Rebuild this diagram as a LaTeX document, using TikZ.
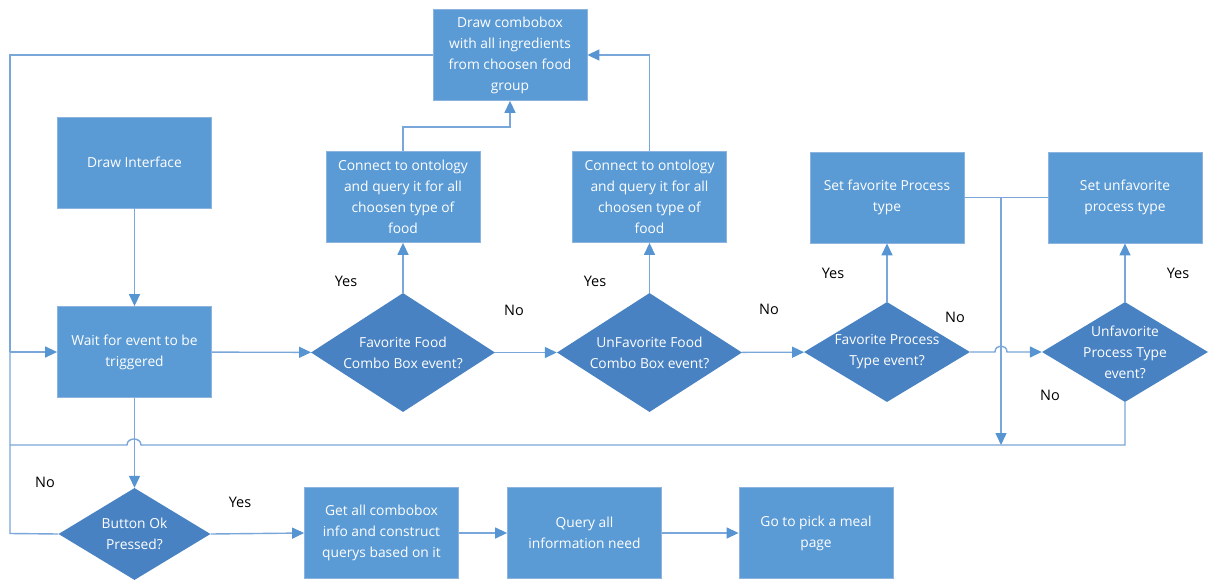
\documentclass[tikz,border=0pt]{standalone}
\usepackage{fontspec}
\setmainfont{Open Sans}
\usetikzlibrary{arrows.meta,shapes.geometric}
\definecolor{boxblue}{HTML}{5B9BD5}
\definecolor{diablue}{HTML}{4882C2}
\definecolor{edgeblue}{HTML}{8DB3DF}
\definecolor{lineblue}{HTML}{7AA7D9}
\definecolor{tipblue}{HTML}{5794D2}
\tikzset{
  procbox/.style={rectangle, fill=boxblue, draw=edgeblue, line width=0.8pt,
    text=white, align=center, inner sep=0pt,
    minimum width=154pt, minimum height=91pt},
  decision/.style={diamond, fill=diablue, draw=none, inner sep=0pt},
  dtext/.style={text=white, align=center},
  flow/.style={draw=lineblue, line width=1.4pt},
  flowarr/.style={flow, -{Triangle[length=12pt,width=11pt,color=tipblue]}},
  answer/.style={text=black, inner sep=0pt, font=\fontsize{14.5}{16}\selectfont},
}
\begin{document}
\begin{tikzpicture}[x=1pt, y=-1pt, font=\fontsize{13.8}{21}\selectfont]
\fill[white] (0,0) rectangle (1208,581);
\useasboundingbox (0,0) rectangle (1208,581);

% process boxes
\node[procbox] (drawui) at (134.5,162.5) {Draw Interface};
\node[procbox] (wait) at (134.5,352) {Wait for event to be\\triggered};
\node[procbox] (combo) at (510,55) {Draw combobox\\with all ingredients\\from choosen food\\group};
\node[procbox] (ontoA) at (403,197) {Connect to ontology\\and query it for all\\choosen type of\\food};
\node[procbox] (ontoB) at (649.5,197) {Connect to ontology\\and query it for all\\choosen type of\\food};
\node[procbox] (setfav) at (887,197.5) {Set favorite Process\\type};
\node[procbox] (setunfav) at (1125,197.5) {Set unfavorite\\process type};
\node[procbox] (getall) at (381.5,533) {Get all combobox\\info and construct\\querys based on it};
\node[procbox] (query) at (584.5,533) {Query all\\information need};
\node[procbox] (gopick) at (816,533) {Go to pick a meal\\page};

% decisions
\node[decision, minimum width=184pt, minimum height=119pt,
  label={[dtext]center:{Favorite Food\\Combo Box event?}}] (favfood) at (403,352.5) {};
\node[decision, minimum width=185pt, minimum height=119pt,
  label={[dtext]center:{UnFavorite Food\\Combo Box event?}}] (unfavfood) at (649.5,352.5) {};
\node[decision, minimum width=166pt, minimum height=100pt,
  label={[dtext]center:{Favorite Process\\Type event?}}] (favproc) at (887,352) {};
\node[decision, minimum width=166pt, minimum height=100pt,
  label={[dtext]center:{Unfavorite\\Process Type\\event?}}] (unfavproc) at (1125,352) {};
\node[decision, minimum width=152pt, minimum height=92pt,
  label={[dtext]center:{Button Ok\\Pressed?}}] (okbtn) at (134.5,534) {};

% branch labels
\node[answer] (yA) at (346,281) {Yes};
\node[answer] (yB) at (595,281) {Yes};
\node[answer] (yC) at (833,273) {Yes};
\node[answer] (yD) at (1178,273) {Yes};
\node[answer] (nA) at (514,310) {No};
\node[answer] (nB) at (769,309) {No};
\node[answer] (nC) at (955,317) {No};
\node[answer] (nD) at (1050,395) {No};
\node[answer] (nE) at (45,482) {No};
\node[answer] (yE) at (240,502) {Yes};

% helper points for the routed connectors
\coordinate (railtop) at (10,55);
\coordinate (railmid) at (10,352);
\coordinate (railbot) at (10,533.5);
\coordinate (retleft) at (10,445);
\coordinate (hopR) at (141,445);
\coordinate (hopL) at (127,445);
\coordinate (joinup) at (1001,197.5);
\coordinate (joindown) at (1001,445);
\coordinate (hop2L) at (995,352);
\coordinate (hop2R) at (1007,352);

% main row
\draw[flowarr] (drawui) -- (wait);
\draw[flowarr] (wait) -- (favfood);
\draw[flowarr] (favfood) -- (unfavfood);
\draw[flowarr] (unfavfood) -- (favproc);
\draw[flowarr] (favproc.east) -- (hop2L)
  .. controls (995,344) and (1007,344) .. (hop2R) -- (unfavproc.west);

% yes branches
\draw[flowarr] (favfood.north) -- (ontoA.south);
\draw[flowarr] (unfavfood.north) -- (ontoB.south);
\draw[flowarr] (favproc.north) -- (setfav.south);
\draw[flowarr] (unfavproc.north) -- (setunfav.south);
\draw[flowarr] (ontoA.north) -- ++(0,-24) -| (combo.south);
\draw[flowarr] (ontoB.north) |- (combo.east);

% returns to the waiting state
\draw[flow] (combo.west) -- (railtop) -- (railmid);
\draw[flow] (okbtn.west) -- (railbot) -- (railmid);
\draw[flowarr] (railmid) -- (wait.west);
\draw[flow] (setfav.east) -- (joinup);
\draw[flow] (setunfav.west) -- (joinup);
\draw[flowarr] (joinup) -- (joindown);
\draw[flow] (unfavproc.south) |- (hopR)
  .. controls (141,437) and (127,437) .. (hopL) -- (retleft);

% bottom row
\draw[flowarr] (wait) -- (okbtn);
\draw[flowarr] (okbtn.east) -- (getall.west);
\draw[flowarr] (getall) -- (query);
\draw[flowarr] (query) -- (gopick);
\end{tikzpicture}
\end{document}
